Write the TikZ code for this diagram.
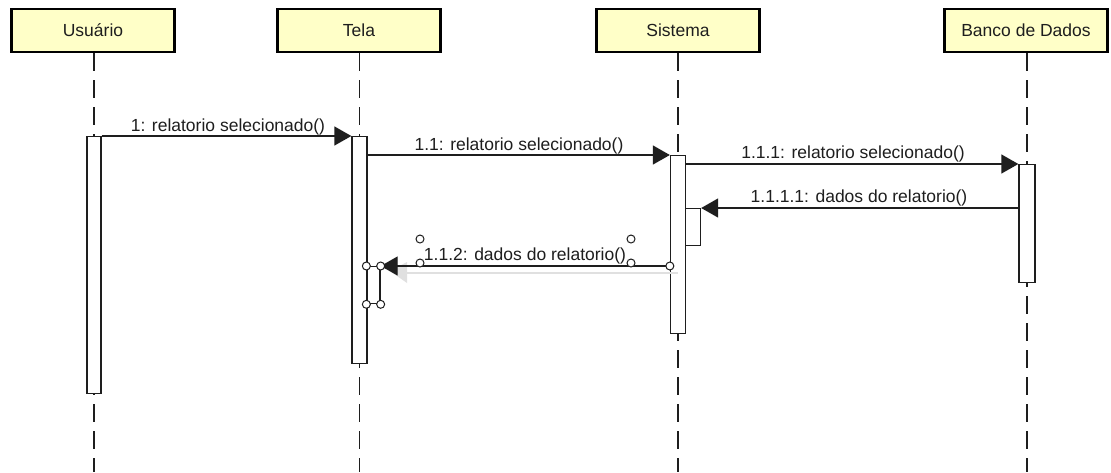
\documentclass[tikz,border=0pt]{standalone}
\usepackage{fontspec}
\setmainfont{Liberation Sans}
\usetikzlibrary{arrows.meta}
\definecolor{hdr}{RGB}{255,255,200}
\definecolor{ink}{RGB}{30,30,30}
\begin{document}
\begin{tikzpicture}[x=1pt,y=-1pt,
  header/.style={draw=black, line width=2.5pt, fill=hdr, minimum width=163pt, minimum height=43pt, inner sep=0pt, text=ink, font=\fontsize{17.5}{20}\selectfont},
  lifeline/.style={draw=ink, line width=1.2pt, dash pattern=on 18pt off 9pt},
  act/.style={draw=ink, fill=white, line width=1.3pt, rectangle, inner sep=0pt, anchor=north},
  msg/.style={draw=ink, line width=1.3pt, -{Triangle[length=17pt,width=19pt]}},
  lbl/.style={anchor=base, inner sep=0pt, text=ink, font=\fontsize{17.5}{20}\selectfont},
  handle/.style={draw=ink, fill=white, line width=1pt, circle, minimum size=8pt, inner sep=0pt}]
\useasboundingbox (0,0) rectangle (1111,472);
\fill[white] (0,0) rectangle (1111,472);
% headers
\node[header] (hU) at (93,30.5) {Usuário};
\node[header] (hT) at (359,30.5) {Tela};
\node[header] (hS) at (678,30.5) {Sistema};
\node[header] (hB) at (1026,30.5) {Banco de Dados};
% lifeline ends
\coordinate (eU) at (94,472);
\coordinate (eT) at (359.5,472);
\coordinate (eS) at (678,472);
\coordinate (eB) at (1027,472);
\draw[lifeline] (hU.south -| eU) -- (eU);
\draw[lifeline] (hT.south -| eT) -- (eT);
\draw[lifeline] (hS.south -| eS) -- (eS);
\draw[lifeline] (hB.south -| eB) -- (eB);
% activations
\node[act, minimum width=14pt, minimum height=257pt] (aU) at (94,136) {};
\node[act, minimum width=15pt, minimum height=227pt] (aT) at (359.5,136) {};
\node[act, minimum width=15pt, minimum height=178pt] (aS) at (678,155) {};
\node[act, minimum width=16pt, minimum height=118pt] (aB) at (1027,164) {};
\node[act, minimum width=15pt, minimum height=37pt] (aS2) at (693,208) {};
\node[act, minimum width=13pt, minimum height=37pt] (aT2) at (373.5,266) {};
% ghost of dragged message
\draw[black!12, line width=1.5pt] (405,273) -- (678,273);
\fill[black!12] (390,271) -- (407,262) -- (407,283) -- cycle;
% messages
\draw[msg] (aU.north east) -- (aT.north west);
\draw[msg] (aT.east |- aS.north) -- (aS.north west);
\draw[msg] (aS.east |- aB.north) -- (aB.north west);
\draw[msg] (aB.west |- aS2.north) -- (aS2.north east);
\draw[msg] (aS.west |- aT2.north) -- (aT2.north east);
% labels
\node[lbl] (l1) at (228,131) {1: relatorio selecionado()};
\node[lbl] (l11) at (519,150) {1.1: relatorio selecionado()};
\node[lbl] (l111) at (853,158.5) {1.1.1: relatorio selecionado()};
\node[lbl] (l1111) at (859,202) {1.1.1.1: dados do relatorio()};
\node[lbl] (l112) at (525,260) {1.1.2: dados do relatorio()};
% selection handles
\node[handle] (h1) at (aT2.north west) {};
\node[handle] (h2) at (aT2.north east) {};
\node[handle] (h3) at (aT2.south west) {};
\node[handle] (h4) at (aT2.south east) {};
\node[handle] (h5) at (aS.west |- aT2.north) {};
\node[handle] (h6) at (420,239) {};
\node[handle] (h7) at (420,263) {};
\node[handle] (h8) at (631,239) {};
\node[handle] (h9) at (631,263) {};
\end{tikzpicture}
\end{document}
